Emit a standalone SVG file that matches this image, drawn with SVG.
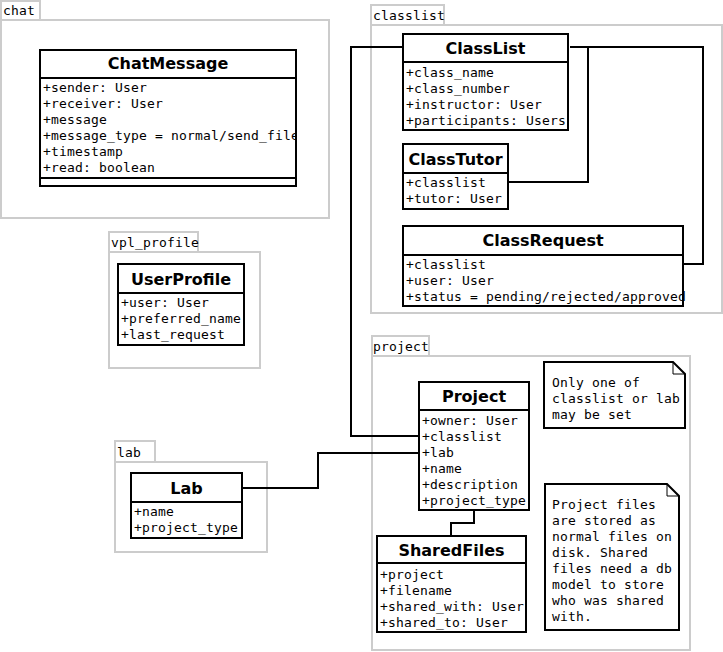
<svg xmlns="http://www.w3.org/2000/svg" width="723" height="652" viewBox="0 0 723 652">
  <style>
    .pkg { fill: #ffffff; stroke: #cccccc; stroke-width: 2; }
    .box { fill: #ffffff; stroke: #000000; stroke-width: 2; }
    .div { stroke: #000000; stroke-width: 2; }
    .edge { fill: none; stroke: #000000; stroke-width: 2; }
    .fold { fill: none; stroke: #000000; stroke-width: 1; }
    .lbl { font-family: "DejaVu Sans Mono", "Liberation Mono", monospace; font-size: 13px; letter-spacing: 0.17px; fill: #000000; }
    .attr { font-family: "DejaVu Sans Mono", "Liberation Mono", monospace; font-size: 13px; letter-spacing: 0.17px; fill: #000000; }
    .title { font-family: "DejaVu Sans", "Liberation Sans", sans-serif; font-size: 16px; font-weight: bold; fill: #000000; text-anchor: middle; }
  </style>
  <defs>
    <clipPath id="clipChat"><rect x="41" y="79" width="255" height="98"/></clipPath>
  </defs>

  <rect width="723" height="652" fill="#ffffff"/>

  <!-- packages -->
  <g id="pkg-chat">
    <rect class="pkg" x="1" y="1" width="39" height="19"/>
    <rect class="pkg" x="1" y="20" width="328" height="198"/>
    <text class="lbl" x="3" y="15">chat</text>
  </g>
  <g id="pkg-classlist">
    <rect class="pkg" x="371" y="5" width="73" height="20"/>
    <rect class="pkg" x="371" y="25" width="351" height="288"/>
    <text class="lbl" x="373" y="20">classlist</text>
  </g>
  <g id="pkg-vpl_profile">
    <rect class="pkg" x="109" y="232" width="89" height="20"/>
    <rect class="pkg" x="109" y="252" width="151" height="116"/>
    <text class="lbl" x="111" y="247">vpl_profile</text>
  </g>
  <g id="pkg-project">
    <rect class="pkg" x="372" y="336" width="57" height="20"/>
    <rect class="pkg" x="372" y="356" width="318" height="294"/>
    <text class="lbl" x="373" y="351">project</text>
  </g>
  <g id="pkg-lab">
    <rect class="pkg" x="115" y="441" width="40" height="21"/>
    <rect class="pkg" x="115" y="462" width="152" height="90"/>
    <text class="lbl" x="117" y="457">lab</text>
  </g>

  <!-- connectors -->
  <g id="connectors">
    <polyline class="edge" points="403,47 351,47 351,436 419,436"/>
    <polyline class="edge" points="570,47 588,47 588,182 508,182"/>
    <polyline class="edge" points="570,47 703,47 703,264 683,264"/>
    <polyline class="edge" points="419,453 318,453 318,488 242,488"/>
    <polyline class="edge" points="474,510 474,523 451,523 451,536"/>
  </g>

  <!-- classes -->
  <g id="ChatMessage">
    <rect class="box" x="40" y="50" width="256" height="136"/>
    <line class="div" x1="40" y1="78" x2="296" y2="78"/>
    <line class="div" x1="40" y1="178" x2="296" y2="178"/>
    <text class="title" x="168" y="69">ChatMessage</text>
    <g clip-path="url(#clipChat)">
      <text class="attr" x="43" y="92">+sender: User</text>
      <text class="attr" x="43" y="108">+receiver: User</text>
      <text class="attr" x="43" y="124">+message</text>
      <text class="attr" x="43" y="140">+message_type = normal/send_file</text>
      <text class="attr" x="43" y="156">+timestamp</text>
      <text class="attr" x="43" y="172">+read: boolean</text>
    </g>
  </g>

  <g id="ClassList">
    <rect class="box" x="403" y="34" width="165" height="96"/>
    <line class="div" x1="403" y1="62" x2="568" y2="62"/>
    <text class="title" x="485.5" y="54">ClassList</text>
    <text class="attr" x="406" y="77">+class_name</text>
    <text class="attr" x="406" y="93">+class_number</text>
    <text class="attr" x="406" y="109">+instructor: User</text>
    <text class="attr" x="406" y="125">+participants: Users</text>
  </g>

  <g id="ClassTutor">
    <rect class="box" x="403" y="144" width="105" height="65"/>
    <line class="div" x1="403" y1="173" x2="508" y2="173"/>
    <text class="title" x="455.5" y="165">ClassTutor</text>
    <text class="attr" x="406" y="187">+classlist</text>
    <text class="attr" x="406" y="203">+tutor: User</text>
  </g>

  <g id="ClassRequest">
    <rect class="box" x="403" y="226" width="280" height="80"/>
    <line class="div" x1="403" y1="255" x2="683" y2="255"/>
    <text class="title" x="543" y="246">ClassRequest</text>
    <text class="attr" x="406" y="269">+classlist</text>
    <text class="attr" x="406" y="285">+user: User</text>
    <text class="attr" x="406" y="301">+status = pending/rejected/approved</text>
  </g>

  <g id="UserProfile">
    <rect class="box" x="118" y="264" width="126" height="81"/>
    <line class="div" x1="118" y1="293" x2="244" y2="293"/>
    <text class="title" x="181" y="285">UserProfile</text>
    <text class="attr" x="121" y="307">+user: User</text>
    <text class="attr" x="121" y="323">+preferred_name</text>
    <text class="attr" x="121" y="339">+last_request</text>
  </g>

  <g id="Project">
    <rect class="box" x="419" y="382" width="110" height="128"/>
    <line class="div" x1="419" y1="410" x2="529" y2="410"/>
    <text class="title" x="474" y="402">Project</text>
    <text class="attr" x="422" y="425">+owner: User</text>
    <text class="attr" x="422" y="441">+classlist</text>
    <text class="attr" x="422" y="457">+lab</text>
    <text class="attr" x="422" y="473">+name</text>
    <text class="attr" x="422" y="489">+description</text>
    <text class="attr" x="422" y="505">+project_type</text>
  </g>

  <g id="Lab">
    <rect class="box" x="131" y="473" width="111" height="65"/>
    <line class="div" x1="131" y1="502" x2="242" y2="502"/>
    <text class="title" x="186.5" y="494">Lab</text>
    <text class="attr" x="134" y="516">+name</text>
    <text class="attr" x="134" y="532">+project_type</text>
  </g>

  <g id="SharedFiles">
    <rect class="box" x="377" y="536" width="149" height="96"/>
    <line class="div" x1="377" y1="563" x2="526" y2="563"/>
    <text class="title" x="451.5" y="556">SharedFiles</text>
    <text class="attr" x="380" y="579">+project</text>
    <text class="attr" x="380" y="595">+filename</text>
    <text class="attr" x="380" y="611">+shared_with: User</text>
    <text class="attr" x="380" y="627">+shared_to: User</text>
  </g>

  <!-- notes -->
  <g id="note-one-of">
    <path class="box" d="M544,362 H673 L685,374 V428 H544 Z"/>
    <path class="fold" d="M673,362 V374 H685"/>
    <text class="attr" x="552" y="387">Only one of</text>
    <text class="attr" x="552" y="403">classlist or lab</text>
    <text class="attr" x="552" y="419">may be set</text>
  </g>

  <g id="note-files">
    <path class="box" d="M545,484 H667 L679,496 V630 H545 Z"/>
    <path class="fold" d="M667,484 V496 H679"/>
    <text class="attr" x="552" y="509">Project files</text>
    <text class="attr" x="552" y="525">are stored as</text>
    <text class="attr" x="552" y="541">normal files on</text>
    <text class="attr" x="552" y="557">disk. Shared</text>
    <text class="attr" x="552" y="573">files need a db</text>
    <text class="attr" x="552" y="589">model to store</text>
    <text class="attr" x="552" y="605">who was shared</text>
    <text class="attr" x="552" y="621">with.</text>
  </g>
</svg>
